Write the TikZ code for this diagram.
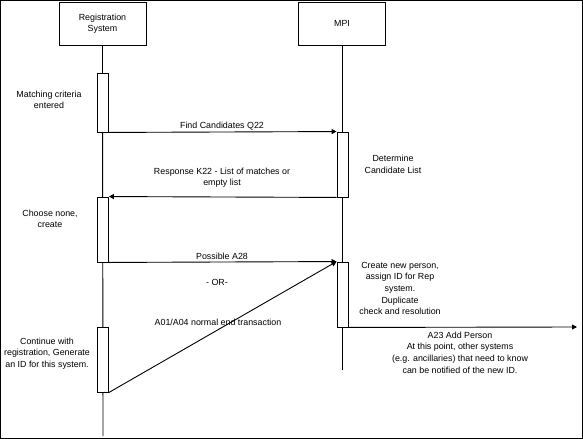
\documentclass[tikz,border=0pt]{standalone}
\usepackage{fontspec}
\setmainfont{Liberation Sans}
\usetikzlibrary{arrows.meta}
\begin{document}
\begin{tikzpicture}[x=1bp,y=-1bp,
  every node/.style={font=\fontsize{8.9}{11.6}\selectfont, inner sep=0pt},
  actor/.style={draw, line width=0.9bp, fill=white, minimum width=87bp, minimum height=43bp, align=center},
  act/.style={draw, line width=0.9bp, fill=white, minimum width=11bp},
  life/.style={line width=0.9bp},
  msg/.style={line width=0.9bp, -{Triangle[length=5bp,width=5bp]}},
  lbl/.style={align=center}]
\useasboundingbox (0,0) rectangle (583,439);
\draw[line width=0.9bp] (0.5,0.5) rectangle (582.5,438.5);
% actors
\node[actor] (reg) at (102.5,23.5) {Registration\\System};
\node[actor] (mpi) at (342,23.5) {MPI};
\coordinate (regEnd) at (103,436);
\coordinate (mpiEnd) at (342,370);
\draw[life] (reg.south) -- (regEnd);
\draw[life] (mpi.south) -- (mpiEnd);
% activations
\node[act, minimum height=59bp] (a1) at (103,102.5) {};
\node[act, minimum height=65bp] (m1) at (342.5,164.5) {};
\node[act, minimum height=65bp] (a2) at (103,229.5) {};
\node[act, minimum height=65bp] (m2) at (342.5,294.5) {};
\node[act, minimum height=65bp] (a3) at (103,359.5) {};
\coordinate (addEnd) at (577,327);
% messages
\draw[msg] (a1.south east) -- (m1.north west);
\draw[msg] (m1.south west) -- (a2.north east);
\draw[msg] (a2.south east) -- (m2.north west);
\draw[msg] (a3.south east) -- (m2.north west);
\draw[msg] (m2.south east) -- (addEnd);
% labels
\node[lbl] (l1) at (222,126) {Find Candidates Q22};
\node[lbl] (l2) at (222,177.5) {Response K22 - List of matches or\\empty list};
\node[lbl] (l3) at (222,256) {Possible A28};
\node[lbl] (l4) at (217,282) {- OR-};
\node[lbl] (l5) at (218,322) {A01/A04 normal end transaction};
\node[lbl] (l6) at (460,352.5) {A23 Add Person\\At this point, other systems\\(e.g. ancillaries) that need to know\\can be notified of the new ID.};
\node[lbl] (n1) at (400,288.5) {Create new person,\\assign ID for Rep\\system.\\Duplicate\\check and resolution};
\node[lbl] (n2) at (393,164.5) {Determine\\Candidate List};
\node[lbl] (n3) at (49,100) {Matching criteria\\entered};
\node[lbl] (n4) at (50,219) {Choose none,\\create};
\node[lbl] (n5) at (47,353.5) {Continue with\\registration, Generate\\an ID for this system.};
\end{tikzpicture}
\end{document}
